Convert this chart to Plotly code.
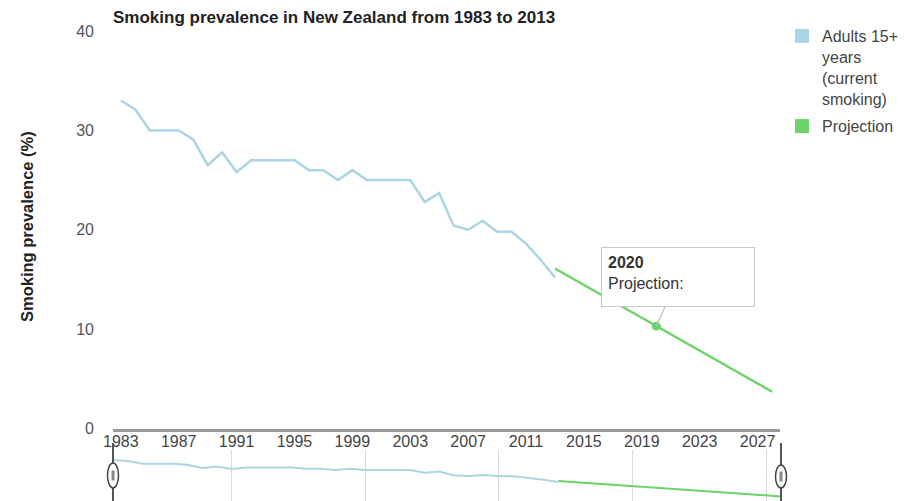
import plotly.graph_objects as go

# ---- data ----
years = list(range(1983, 2014))
adults = [33.0, 32.1, 30.0, 30.0, 30.0, 29.1, 26.5, 27.8, 25.8, 27.0,
          27.0, 27.0, 27.0, 26.0, 26.0, 25.0, 26.0, 25.0, 25.0, 25.0,
          25.0, 22.8, 23.7, 20.4, 20.0, 20.9, 19.8, 19.8, 18.6, 17.0, 15.2]
proj_years = [2013, 2020, 2028]
proj_values = [16.1, 10.3, 3.7]
highlight_year = 2020
x_tickvals = list(range(1983, 2028, 4))
y_tickvals = [0, 10, 20, 30, 40]
nav_grid = [1991, 2000, 2009, 2018, 2027]

BLUE = "#acd5e3"
GREEN = "#6ad36a"

# page body has an 8px margin; work in screen coordinates and compensate
OFF = 8
W, H = 906 - OFF, 501 - OFF
L = 113 - OFF
T = 31 - OFF
R = W - (781 - OFF)
B = 0
PW = W - L - R
PH = H - T - B


def px2x(px):
    return (px - OFF - L) / PW


def px2y(py):
    return (H - B - (py - OFF)) / PH


fig = go.Figure()

# main chart
fig.add_trace(go.Scatter(x=years, y=adults, mode="lines",
                         line=dict(color=BLUE, width=2.5),
                         showlegend=False, hoverinfo="skip"))
fig.add_trace(go.Scatter(x=proj_years, y=proj_values, mode="lines",
                         line=dict(color=GREEN, width=2.5),
                         showlegend=False, hoverinfo="skip"))
hi = proj_years.index(highlight_year)
fig.add_trace(go.Scatter(x=[proj_years[hi]], y=[proj_values[hi]], mode="markers",
                         marker=dict(color=GREEN, size=9),
                         showlegend=False, hoverinfo="skip"))

# legend entries (square swatches)
fig.add_trace(go.Scatter(x=[None], y=[None], mode="markers", legendgroup="a",
                         marker=dict(symbol="square", size=14, color=BLUE),
                         name="Adults 15+<br>years<br>(current<br>smoking)"))
fig.add_trace(go.Scatter(x=[None], y=[None], mode="markers", legendgroup="b",
                         marker=dict(symbol="square", size=14, color=GREEN),
                         name="Projection"))

# navigator mini chart
fig.add_trace(go.Scatter(x=years, y=adults, mode="lines", xaxis="x2", yaxis="y2",
                         line=dict(color=BLUE, width=2), showlegend=False,
                         hoverinfo="skip"))
fig.add_trace(go.Scatter(x=proj_years, y=proj_values, mode="lines", xaxis="x2",
                         yaxis="y2", line=dict(color=GREEN, width=2),
                         showlegend=False, hoverinfo="skip"))

tickfont = dict(family="Liberation Sans, Arial", size=16, color="#444")

shapes = []
# navigator handles
for hx, ky0, ky1 in [(113, 463, 488), (781, 465, 488)]:
    shapes.append(dict(type="line", xref="paper", yref="paper",
                       x0=px2x(hx), x1=px2x(hx), y0=px2y(443), y1=px2y(501),
                       line=dict(color="#555", width=2), layer="above"))
    shapes.append(dict(type="circle", xref="paper", yref="paper",
                       x0=px2x(hx - 5.5), x1=px2x(hx + 5.5), y0=px2y(ky1), y1=px2y(ky0),
                       fillcolor="white", line=dict(color="#444", width=1.5), layer="above"))
    shapes.append(dict(type="rect", xref="paper", yref="paper",
                       x0=px2x(hx - 1.5), x1=px2x(hx + 1.5),
                       y0=px2y((ky0 + ky1) / 2 + 5), y1=px2y((ky0 + ky1) / 2 - 5),
                       fillcolor="#888", line=dict(width=0), layer="above"))

fig.update_layout(
    width=W, height=H,
    margin=dict(l=L, r=R, t=T, b=B, pad=0, autoexpand=False),
    paper_bgcolor="white", plot_bgcolor="white",
    font=dict(family="Liberation Sans, Arial", color="#444"),
    title=dict(text="<b>Smoking prevalence in New Zealand from 1983 to 2013</b>",
               font=dict(family="Liberation Sans, Arial", size=17, color="#222"),
               x=(113 - OFF) / W, xanchor="left", xref="container",
               y=1 - (17 - OFF) / H, yanchor="middle", yref="container"),
    xaxis=dict(domain=[0, px2x(780)], range=[1982.46, 2028.55],
               tickvals=x_tickvals, tickfont=tickfont, showgrid=False,
               zeroline=False, showline=True, linecolor="#999", linewidth=3,
               ticks="", ticklabelstandoff=-4, automargin=False, fixedrange=True),
    yaxis=dict(domain=[px2y(428.5), 1], range=[0, 40], tickvals=y_tickvals,
               tickfont=dict(tickfont, color="#555"), showgrid=False, zeroline=False,
               showline=False, ticks="", ticklabelstandoff=18, automargin=False,
               fixedrange=True),
    xaxis2=dict(domain=[0, 1], range=[1983, 2028], anchor="y2",
                tickvals=nav_grid, showticklabels=False, showgrid=True,
                gridcolor="#d8d8d8", gridwidth=1, zeroline=False, showline=False,
                ticks="", automargin=False, fixedrange=True),
    yaxis2=dict(domain=[0, px2y(450)], range=[0, 41], anchor="x2",
                visible=False, automargin=False, fixedrange=True),
    legend=dict(x=px2x(782), xanchor="left", y=px2y(19), yanchor="top",
                valign="top", font=dict(size=16, color="#444"),
                bgcolor="rgba(0,0,0,0)", borderwidth=0, tracegroupgap=4),
    shapes=shapes,
    annotations=[
        dict(text="<b>Smoking prevalence (%)</b>", xref="paper", yref="paper",
             x=px2x(27), y=px2y(227), textangle=-90, showarrow=False,
             font=dict(family="Liberation Sans, Arial", size=16.5, color="#222"),
             xanchor="center", yanchor="middle"),
        dict(text="<b>2020</b><br>Projection:", xref="x", yref="y",
             x=proj_years[hi], y=proj_values[hi], ax=22, ay=-49,
             showarrow=True, arrowhead=0, arrowwidth=1.2, arrowcolor="#bbb",
             align="left", valign="top", width=140, height=46,
             bgcolor="white", bordercolor="#c8c8c8", borderwidth=1, borderpad=6,
             font=dict(family="Liberation Sans, Arial", size=16, color="#333")),
    ],
)

fig.write_html("out.html")
